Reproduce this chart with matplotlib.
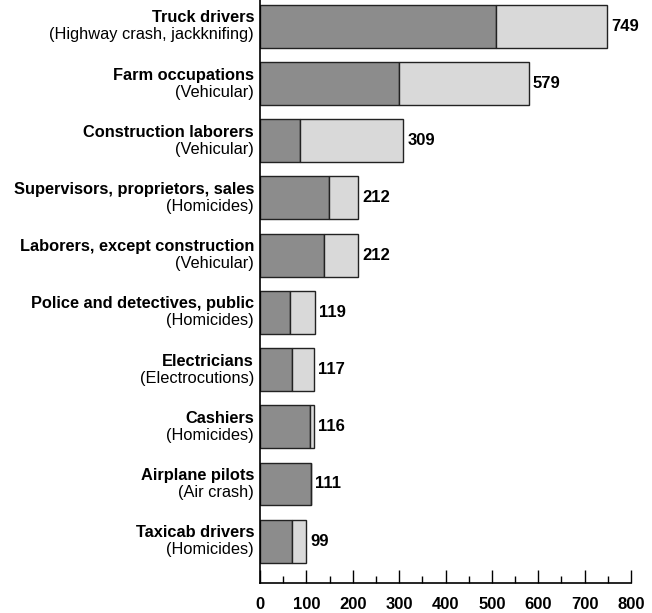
import matplotlib
matplotlib.use("Agg")
from matplotlib import pyplot as plt
from matplotlib.ticker import MultipleLocator

plt.rcParams['font.family'] = ['Liberation Sans', 'DejaVu Sans']

occupations = ["Truck drivers", "Farm occupations", "Construction laborers",
               "Supervisors, proprietors, sales", "Laborers, except construction",
               "Police and detectives, public", "Electricians", "Cashiers",
               "Airplane pilots", "Taxicab drivers"]
causes = ["(Highway crash, jackknifing)", "(Vehicular)", "(Vehicular)", "(Homicides)",
          "(Vehicular)", "(Homicides)", "(Electrocutions)", "(Homicides)",
          "(Air crash)", "(Homicides)"]
leading_cause = [508, 299, 86, 149, 137, 65, 69, 108, 111, 69]
totals = [749, 579, 309, 212, 212, 119, 117, 116, 111, 99]

other = [t - l for t, l in zip(totals, leading_cause)]
n = len(occupations)
ypos = [n - 1 - i for i in range(n)]

fig = plt.figure(figsize=(6.52, 6.13), dpi=100)
ax = fig.add_axes([0.3988, 0.049, 0.5690, 0.951])

ax.barh(ypos, leading_cause, height=0.75, color="#8c8c8c", edgecolor="#222222", linewidth=1)
ax.barh(ypos, other, left=leading_cause, height=0.75, color="#d9d9d9", edgecolor="#222222", linewidth=1)

for y, t, occ, cause in zip(ypos, totals, occupations, causes):
	ax.annotate(str(t), (t, y), xytext=(4, 0), textcoords="offset pixels",
	            ha="left", va="center", fontsize=12, fontweight="bold")
	ax.annotate(occ, (0, y), xytext=(-6, 1), textcoords="offset pixels",
	            ha="right", va="bottom", fontsize=11.8, fontweight="bold")
	ax.annotate(cause, (0, y), xytext=(-6, -1), textcoords="offset pixels",
	            ha="right", va="top", fontsize=11.8)

ax.set_xlim(0, 800)
ax.set_ylim(-0.73, 9.46)
ax.set_yticks([])
ax.xaxis.set_major_locator(MultipleLocator(100))
ax.xaxis.set_minor_locator(MultipleLocator(50))
ax.tick_params(axis="x", which="major", direction="in", length=9.5, width=1, pad=10)
ax.tick_params(axis="x", which="minor", direction="in", length=5, width=1)
for lbl in ax.get_xticklabels():
	lbl.set_fontweight("bold")
	lbl.set_fontsize(12)

ax.spines["top"].set_visible(False)
ax.spines["right"].set_visible(False)
ax.spines["left"].set_linewidth(1.2)
ax.spines["bottom"].set_linewidth(1.2)

fig.savefig("out.png", dpi=100)
